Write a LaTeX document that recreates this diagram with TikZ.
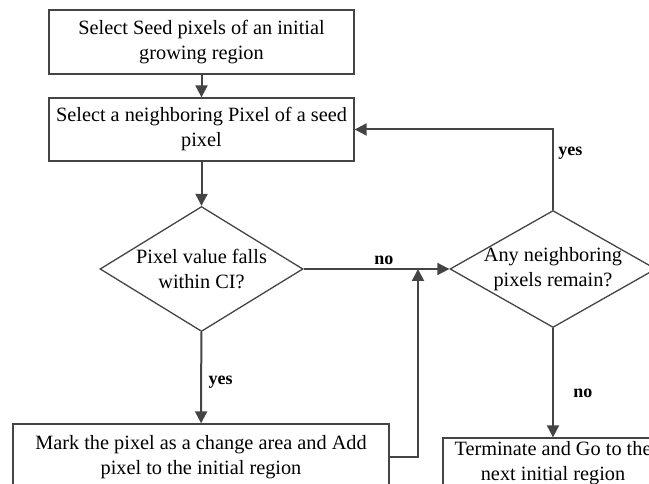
\documentclass[tikz,border=0pt]{standalone}
\usepackage{fontspec}
\setmainfont{Liberation Serif}
\usetikzlibrary{shapes.geometric,arrows.meta}

\definecolor{linegray}{RGB}{68,68,68}

\tikzset{
  procbox/.style={draw=linegray, line width=1.3pt, rectangle, align=center, inner sep=0pt},
  decide/.style={draw=linegray, line width=1.3pt, diamond, align=center, inner sep=0pt, aspect=1.62},
  flow/.style={draw=linegray, line width=2pt, -{Triangle[length=12pt,width=12pt]}},
  tag/.style={font=\fontsize{18}{20}\selectfont\bfseries}
}

\begin{document}
\begin{tikzpicture}[x=1pt, y=-1pt, font=\fontsize{20.3}{25}\selectfont]
  \useasboundingbox (0,0) rectangle (649,484);
  \clip (0,0) rectangle (649,484);

  % Process boxes
  \node[procbox, minimum width=305, minimum height=64] (seed) at (201.5,42)
    {Select Seed pixels of an initial\\growing region};
  \node[procbox, minimum width=305, minimum height=63] (neigh) at (201.5,129.5)
    {Select a neighboring Pixel of a seed\\pixel};

  % Decisions
  \node[decide, inner ysep=-4pt, minimum width=203, minimum height=125] (inci) at (201.5,269)
    {Pixel value falls\\within CI?};
  \node[decide, inner ysep=-8pt, aspect=1.8, minimum width=206, minimum height=117] (remain) at (553,269)
    {Any neighboring\\pixels remain?};

  % Bottom boxes (cut by the page edge)
  \node[procbox, minimum width=376, minimum height=66] (mark) at (201,457)
    {Mark the pixel as a change area and Add\\pixel to the initial region};
  \node[procbox, minimum width=220, minimum height=50] (term) at (553,463)
    {Terminate and Go to the\\next initial region};

  % Connectors
  \draw[flow] (seed) -- (neigh);
  \draw[flow] (neigh) -- (inci);
  \draw[flow] (inci) -- node[tag, pos=0.55, anchor=west, xshift=3pt] {yes} (mark);
  \draw[flow] (inci) -- node[tag, above, pos=0.55] {no} (remain);
  \coordinate (join) at (418,269);
  \draw[flow] (mark.east) -| (join);
  \draw[flow] (remain.north) |- node[tag, pos=0.35, anchor=west, xshift=1pt] {yes} (neigh.east);
  \draw[flow] (remain) -- node[tag, pos=0.6, anchor=west, xshift=16pt] {no} (term);
\end{tikzpicture}
\end{document}
